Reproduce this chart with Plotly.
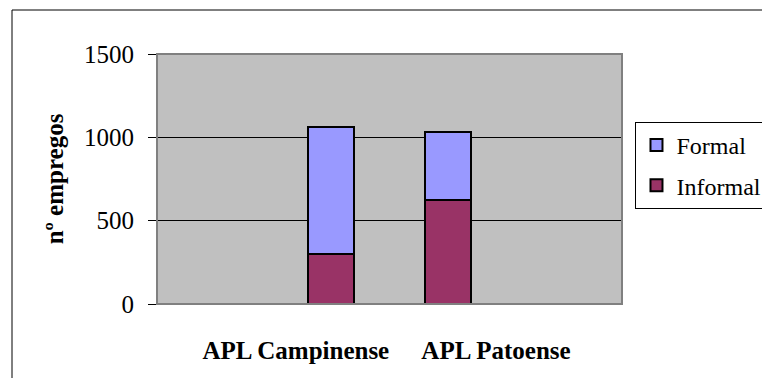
import plotly.graph_objects as go

categories = ["APL Campinense", "APL Patoense"]
informal = [300, 624]
formal = [764, 408]
y_ticks = [0, 500, 1000, 1500]

# bar slots on a 4-slot category scale (first and last slots empty)
bar_pos = [1, 2]
label_pos = [0.694, 2.416]

FONT = "Liberation Serif"

fig = go.Figure()
fig.add_trace(go.Bar(
    x=bar_pos, y=informal, name="Informal", width=0.395,
    marker=dict(color="#993366", line=dict(color="black", width=2)),
    legendgroup="b", legendrank=2,
))
fig.add_trace(go.Bar(
    x=bar_pos, y=formal, name="Formal", width=0.395,
    marker=dict(color="#9999FF", line=dict(color="black", width=2)),
    legendgroup="a", legendrank=1,
))

fig.update_layout(
    barmode="stack",
    width=790, height=370,
    margin=dict(l=149, r=176, t=46, b=74, autoexpand=False),
    paper_bgcolor="white",
    plot_bgcolor="#C0C0C0",
    font=dict(family=FONT, size=25, color="black"),
    showlegend=True,
    legend=dict(
        x=1.029, y=0.728, xanchor="left", yanchor="top",
        bgcolor="white", bordercolor="black", borderwidth=1,
        traceorder="grouped", tracegroupgap=6,
        font=dict(family=FONT, size=24, color="black"),
    ),
    xaxis=dict(
        range=[-0.5, 3.5], tickvals=label_pos, ticktext=categories,
        showgrid=False, zeroline=False, showline=False, ticks="",
        tickfont=dict(family=FONT, size=25, weight="bold", color="black"),
        ticklabelstandoff=29,
    ),
    yaxis=dict(
        range=[0, 1500], tickvals=y_ticks,
        showgrid=True, gridcolor="black", gridwidth=1,
        zeroline=False, showline=False,
        ticks="outside", ticklen=8, tickcolor="black", tickwidth=1,
        ticklabelstandoff=9,
        tickfont=dict(family=FONT, size=25, color="black"),
        title=dict(text="nº empregos", standoff=13,
                   font=dict(family=FONT, size=25, weight="bold", color="black")),
    ),
    shapes=[
        # plot area border
        dict(type="rect", xref="paper", yref="paper", x0=0, y0=0, x1=1, y1=1,
             line=dict(color="#808080", width=2), layer="above"),
        # outer chart frame
        dict(type="rect", xref="paper", yref="paper",
             x0=(12 - 157) / 465, y0=-0.5, x1=2.0, y1=(304 - 10) / 250,
             line=dict(color="black", width=1), layer="below"),
    ],
)

fig.write_html("out.html", post_script="document.body.style.overflow='hidden';")
